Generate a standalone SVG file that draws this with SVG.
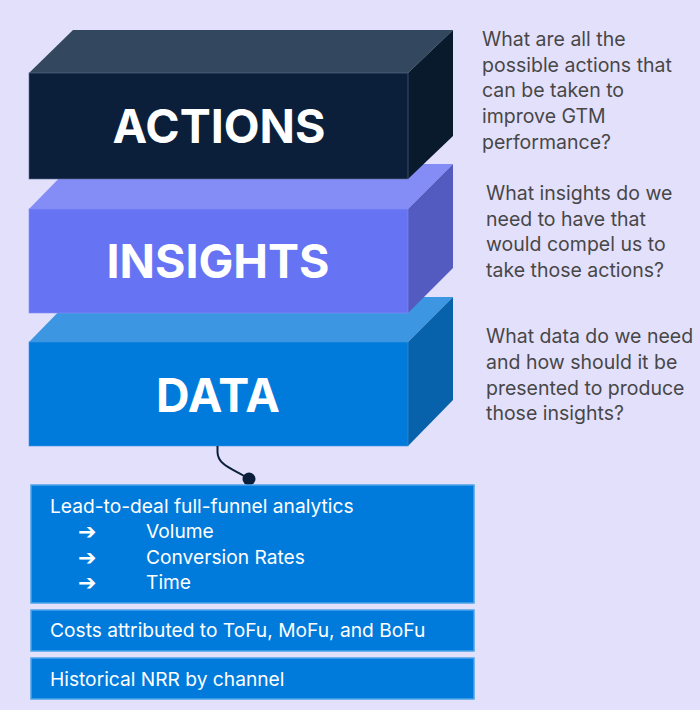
<svg xmlns="http://www.w3.org/2000/svg" width="700" height="710" viewBox="0 0 700 710">
<style>
.bg{fill:#e3e0fc}
.lbl{font-family:Inter,"Liberation Sans",sans-serif;font-weight:700;font-size:46.5px;fill:#ffffff;text-anchor:middle}
.q{font-family:Inter,"Liberation Sans",sans-serif;font-size:19.5px;fill:#474747}
.bt{font-family:Inter,"Liberation Sans",sans-serif;font-size:19.2px;fill:#ffffff}
.ar{font-family:"DejaVu Sans",sans-serif;font-size:22px;font-weight:700;fill:#ffffff}
.box{fill:#007bdc;stroke:#4ea3ea;stroke-width:1.5}
.edge{stroke-width:1;stroke-opacity:0.6}
</style>
<rect class="bg" x="0" y="0" width="700" height="710"/>

<g id="data">
  <polygon points="29,342 73,297 453,297 408,342" fill="#3d96e1"/>
  <polygon points="408,342 453,297 453,400 408,446" fill="#0762ab"/>
  <rect x="29" y="342" width="379" height="104" fill="#007bdc" stroke="#3d96e1" class="edge"/>
  <text class="lbl" x="218" y="411.5">DATA</text>
</g>
<g id="insights">
  <polygon points="29,209 73,164 453,164 408,209" fill="#848cf6"/>
  <polygon points="408,209 453,164 453,268 408,313" fill="#535bc0"/>
  <rect x="29" y="209" width="379" height="104" fill="#6674f4" stroke="#848cf6" class="edge"/>
  <text class="lbl" x="218" y="277.5">INSIGHTS</text>
</g>
<g id="actions">
  <polygon points="29,73 73,30 453,30 408,73" fill="#33485e"/>
  <polygon points="408,73 453,30 453,136 408,179" fill="#0a1a2d"/>
  <rect x="29" y="73" width="379" height="106" fill="#0c1f3a" stroke="#5a6e93" class="edge"/>
  <text class="lbl" x="219" y="143">ACTIONS</text>
</g>

<g id="q-actions">
  <text class="q" x="482" y="46">What are all the</text>
  <text class="q" x="482" y="71.7">possible actions that</text>
  <text class="q" x="482" y="97.3">can be taken to</text>
  <text class="q" x="482" y="123">improve GTM</text>
  <text class="q" x="482" y="148.7">performance?</text>
</g>
<g id="q-insights">
  <text class="q" x="486" y="200">What insights do we</text>
  <text class="q" x="486" y="225.7">need to have that</text>
  <text class="q" x="486" y="251.3">would compel us to</text>
  <text class="q" x="486" y="277">take those actions?</text>
</g>
<g id="q-data">
  <text class="q" x="486" y="343.3">What data do we need</text>
  <text class="q" x="486" y="369">and how should it be</text>
  <text class="q" x="486" y="394.7">presented to produce</text>
  <text class="q" x="486" y="420.3">those insights?</text>
</g>

<g id="connectors">
  <path d="M217.5,446 L217.5,452 C217.5,466 236,470 249,479" fill="none" stroke="#0c1f3a" stroke-width="2"/>
  <circle cx="249" cy="479" r="6.5" fill="#0c1f3a"/>
</g>

<g id="box-funnel">
  <rect class="box" x="31" y="485" width="443" height="118"/>
  <text class="bt" x="50" y="512.5">Lead-to-deal full-funnel analytics</text>
  <text class="ar" x="78" y="539">➔</text>
  <text class="bt" x="146" y="538">Volume</text>
  <text class="ar" x="78" y="564.5">➔</text>
  <text class="bt" x="146" y="563.5">Conversion Rates</text>
  <text class="ar" x="78" y="590">➔</text>
  <text class="bt" x="146" y="589">Time</text>
</g>
<g id="box-costs">
  <rect class="box" x="31" y="610" width="443" height="41"/>
  <text class="bt" x="50" y="637">Costs attributed to ToFu, MoFu, and BoFu</text>
</g>
<g id="box-nrr">
  <rect class="box" x="31" y="658" width="443" height="41"/>
  <text class="bt" x="50" y="686">Historical NRR by channel</text>
</g>
</svg>
